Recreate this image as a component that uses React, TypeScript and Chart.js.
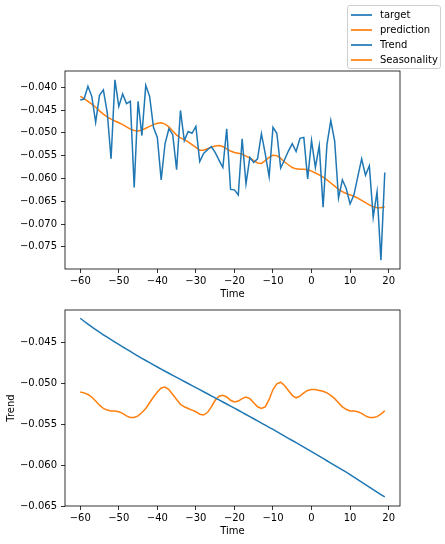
import { useEffect, useRef } from "react"
import { Chart, registerables } from "chart.js"

Chart.register(...registerables)

// time axis (shared by both panels)
const times = [
  -60, -59, -58, -57, -56, -55, -54, -53, -52, -51, -50, -49, -48, -47, -46, -45, -44, -43, -42, -41,
  -40, -39, -38, -37, -36, -35, -34, -33, -32, -31, -30, -29, -28, -27, -26, -25, -24, -23, -22, -21,
  -20, -19, -18, -17, -16, -15, -14, -13, -12, -11, -10, -9, -8, -7, -6, -5, -4, -3, -2, -1,
  0, 1, 2, 3, 4, 5, 6, 7, 8, 9, 10, 11, 12, 13, 14, 15, 16, 17, 18, 19,
]

const target = [
  -0.0428, -0.0426, -0.0398, -0.0420, -0.0477, -0.0418, -0.0406, -0.0455, -0.0557, -0.0384,
  -0.0442, -0.0415, -0.0436, -0.0431, -0.0620, -0.0431, -0.0506, -0.0396, -0.0420, -0.0488,
  -0.0510, -0.0603, -0.0524, -0.0491, -0.0504, -0.0581, -0.0451, -0.0517, -0.0497, -0.0501,
  -0.0486, -0.0563, -0.0545, -0.0537, -0.0530, -0.0543, -0.0560, -0.0576, -0.0491, -0.0624,
  -0.0625, -0.0636, -0.0513, -0.0612, -0.0554, -0.0565, -0.0557, -0.0502, -0.0546, -0.0596,
  -0.0488, -0.0501, -0.0577, -0.0559, -0.0540, -0.0524, -0.0541, -0.0512, -0.0510, -0.0601,
  -0.0517, -0.0576, -0.0528, -0.0663, -0.0526, -0.0473, -0.0518, -0.0643, -0.0603, -0.0622,
  -0.0656, -0.0636, -0.0596, -0.0557, -0.0593, -0.0572, -0.0685, -0.0629, -0.0779, -0.0587,
]

const prediction = [
  -0.0420, -0.0425, -0.0431, -0.0437, -0.0444, -0.0452, -0.0459, -0.0465, -0.0470, -0.0474,
  -0.0478, -0.0482, -0.0487, -0.0492, -0.0495, -0.0496, -0.0494, -0.0490, -0.0486, -0.0482,
  -0.0479, -0.0478, -0.0481, -0.0487, -0.0496, -0.0505, -0.0511, -0.0515, -0.0520, -0.0526,
  -0.0532, -0.0538, -0.0538, -0.0535, -0.0532, -0.0529, -0.0528, -0.0530, -0.0535, -0.0540,
  -0.0543, -0.0545, -0.0547, -0.0551, -0.0555, -0.0561, -0.0566, -0.0567, -0.0561, -0.0554,
  -0.0549, -0.0550, -0.0556, -0.0564, -0.0570, -0.0576, -0.0579, -0.0580, -0.0580, -0.0581,
  -0.0584, -0.0588, -0.0592, -0.0597, -0.0603, -0.0610, -0.0617, -0.0624, -0.0629, -0.0633,
  -0.0636, -0.0639, -0.0643, -0.0648, -0.0653, -0.0658, -0.0662, -0.0664, -0.0664, -0.0662,
]

const trend = [
  -0.04210, -0.04246, -0.04281, -0.04315, -0.04348, -0.04380, -0.04411, -0.04441, -0.04471, -0.04500,
  -0.04529, -0.04558, -0.04587, -0.04615, -0.04643, -0.04671, -0.04698, -0.04725, -0.04752, -0.04778,
  -0.04804, -0.04830, -0.04856, -0.04881, -0.04906, -0.04931, -0.04956, -0.04981, -0.05006, -0.05031,
  -0.05056, -0.05081, -0.05106, -0.05131, -0.05156, -0.05181, -0.05206, -0.05231, -0.05256, -0.05281,
  -0.05306, -0.05332, -0.05358, -0.05384, -0.05410, -0.05436, -0.05462, -0.05488, -0.05514, -0.05540,
  -0.05566, -0.05593, -0.05620, -0.05647, -0.05674, -0.05701, -0.05728, -0.05755, -0.05782, -0.05809,
  -0.05836, -0.05864, -0.05892, -0.05920, -0.05948, -0.05976, -0.06004, -0.06032, -0.06060, -0.06088,
  -0.06116, -0.06147, -0.06178, -0.06209, -0.06240, -0.06270, -0.06300, -0.06330, -0.06360, -0.06390,
]

const seasonality = [
  -0.0511, -0.0512, -0.0514, -0.0517, -0.0522, -0.0527, -0.0531, -0.0533, -0.0534, -0.0534,
  -0.0535, -0.0537, -0.0540, -0.0542, -0.0542, -0.0540, -0.0536, -0.0531, -0.0524, -0.0517,
  -0.0511, -0.0506, -0.0505, -0.0508, -0.0514, -0.0520, -0.0526, -0.0529, -0.0531, -0.0533,
  -0.0535, -0.0538, -0.0539, -0.0536, -0.0529, -0.0521, -0.0516, -0.0515, -0.0517, -0.0521,
  -0.0523, -0.0522, -0.0519, -0.0517, -0.0519, -0.0524, -0.0529, -0.0531, -0.0529, -0.0520,
  -0.0508, -0.0501, -0.0499, -0.0503, -0.0509, -0.0515, -0.0518, -0.0516, -0.0512, -0.0509,
  -0.0508, -0.0508, -0.0509, -0.0510, -0.0512, -0.0515, -0.0519, -0.0524, -0.0529, -0.0532,
  -0.0534, -0.0534, -0.0535, -0.0537, -0.0540, -0.0542, -0.0542, -0.0541, -0.0538, -0.0534,
]

const xTicks = [-60, -50, -40, -30, -20, -10, 0, 10, 20]
const topYTicks = [-0.04, -0.045, -0.05, -0.055, -0.06, -0.065, -0.07, -0.075]
const bottomYTicks = [-0.045, -0.05, -0.055, -0.06, -0.065]

const BLUE = "#1f77b4"
const ORANGE = "#ff7f0e"
const FONT = { family: "'DejaVu Sans', sans-serif", size: 10 }

const minus = (s: string) => s.replace("-", "\u2212")

// draws the matplotlib style box around the plot area
const framePlugin = {
  id: "frame",
  afterDraw: (chart: Chart) => {
    const { ctx, chartArea } = chart
    ctx.save()
    ctx.strokeStyle = "#000"
    ctx.lineWidth = 0.8
    ctx.strokeRect(chartArea.left, chartArea.top, chartArea.right - chartArea.left, chartArea.bottom - chartArea.top)
    ctx.restore()
  },
}

const series = (ys: number[]) => times.map((t, i) => ({ x: t, y: ys[i] }))

function makeConfig(opts: {
  datasets: { data: number[]; color: string }[]
  yMin: number
  yMax: number
  yTicks: number[]
  yTitle?: string
  padTop: number
  xHeight: number
  xTitlePad: number
}) {
  return {
    type: "line",
    data: {
      datasets: opts.datasets.map((d) => ({
        data: series(d.data),
        borderColor: d.color,
        backgroundColor: d.color,
        borderWidth: 1.5,
        pointRadius: 0,
        tension: 0,
      })),
    },
    options: {
      animation: false,
      responsive: false,
      layout: { padding: { top: opts.padTop, right: 45, left: 0, bottom: 0 } },
      plugins: { legend: { display: false }, tooltip: { enabled: false } },
      scales: {
        x: {
          type: "linear",
          min: -63.95,
          max: 22.95,
          afterBuildTicks: (axis: any) => {
            axis.ticks = xTicks.map((v) => ({ value: v }))
          },
          afterFit: (axis: any) => {
            axis.height = opts.xHeight
          },
          border: { display: false },
          grid: { drawOnChartArea: false, drawTicks: true, tickLength: 4, color: "#000", lineWidth: 0.8 },
          ticks: {
            color: "#000",
            font: FONT,
            padding: 2,
            maxRotation: 0,
            callback: (v: any) => minus(String(v)),
          },
          title: { display: true, text: "Time", color: "#000", font: FONT, padding: { top: 0, bottom: opts.xTitlePad } },
        },
        y: {
          type: "linear",
          min: opts.yMin,
          max: opts.yMax,
          afterBuildTicks: (axis: any) => {
            axis.ticks = opts.yTicks.map((v) => ({ value: v }))
          },
          afterFit: (axis: any) => {
            axis.width = 65
          },
          border: { display: false },
          grid: { drawOnChartArea: false, drawTicks: true, tickLength: 4, color: "#000", lineWidth: 0.8 },
          ticks: {
            color: "#000",
            font: FONT,
            padding: 4,
            callback: (v: any) => minus(Number(v).toFixed(3)),
          },
          title: {
            display: !!opts.yTitle,
            text: opts.yTitle || "",
            color: "#000",
            font: FONT,
            padding: { top: 5, bottom: 0 },
          },
        },
      },
    },
    plugins: [framePlugin],
  }
}

function LineChart({ config, width, height, top }: { config: any; width: number; height: number; top: number }) {
  const ref = useRef<HTMLCanvasElement>(null)
  useEffect(() => {
    if (!ref.current) return
    const chart = new Chart(ref.current, config)
    return () => chart.destroy()
  }, [config])
  return (
    <canvas
      ref={ref}
      width={width}
      height={height}
      style={{ position: "absolute", left: 0, top, width, height }}
    />
  )
}

const topConfig = makeConfig({
  datasets: [
    { data: target, color: BLUE },
    { data: prediction, color: ORANGE },
  ],
  yMin: -0.07985,
  yMax: -0.03645,
  yTicks: topYTicks,
  padTop: 71,
  xHeight: 31,
  xTitlePad: 0,
})

const bottomConfig = makeConfig({
  datasets: [
    { data: trend, color: BLUE },
    { data: seasonality, color: ORANGE },
  ],
  yMin: -0.06500,
  yMax: -0.04109,
  yTicks: bottomYTicks,
  yTitle: "Trend",
  padTop: 8,
  xHeight: 38,
  xTitlePad: 7,
})

const legendItems = [
  { label: "target", color: BLUE },
  { label: "prediction", color: ORANGE },
  { label: "Trend", color: BLUE },
  { label: "Seasonality", color: ORANGE },
]

export default function App() {
  return (
    <div style={{ position: "fixed", left: 0, top: 0, width: 445, height: 544, background: "#fff", overflow: "hidden" }}>
      <LineChart config={topConfig} width={445} height={300} top={0} />
      <LineChart config={bottomConfig} width={445} height={244} top={300} />
      {/* figure legend, top right */}
      <div
        style={{
          position: "absolute",
          left: 347,
          top: 5,
          width: 92,
          height: 62,
          border: "1px solid #d0d0d0",
          borderRadius: 3,
          background: "rgba(255,255,255,0.8)",
          fontFamily: "'DejaVu Sans', sans-serif",
          fontSize: 10,
          color: "#000",
        }}
      >
        {legendItems.map((item, i) => (
          <div key={i} style={{ position: "absolute", left: 0, top: 2 + i * 15, height: 13, display: "flex", alignItems: "center" }}>
            <div style={{ marginLeft: 3, width: 21, height: 2, background: item.color, opacity: 0.85 }} />
            <span style={{ marginLeft: 8, whiteSpace: "nowrap" }}>{item.label}</span>
          </div>
        ))}
      </div>
    </div>
  )
}
